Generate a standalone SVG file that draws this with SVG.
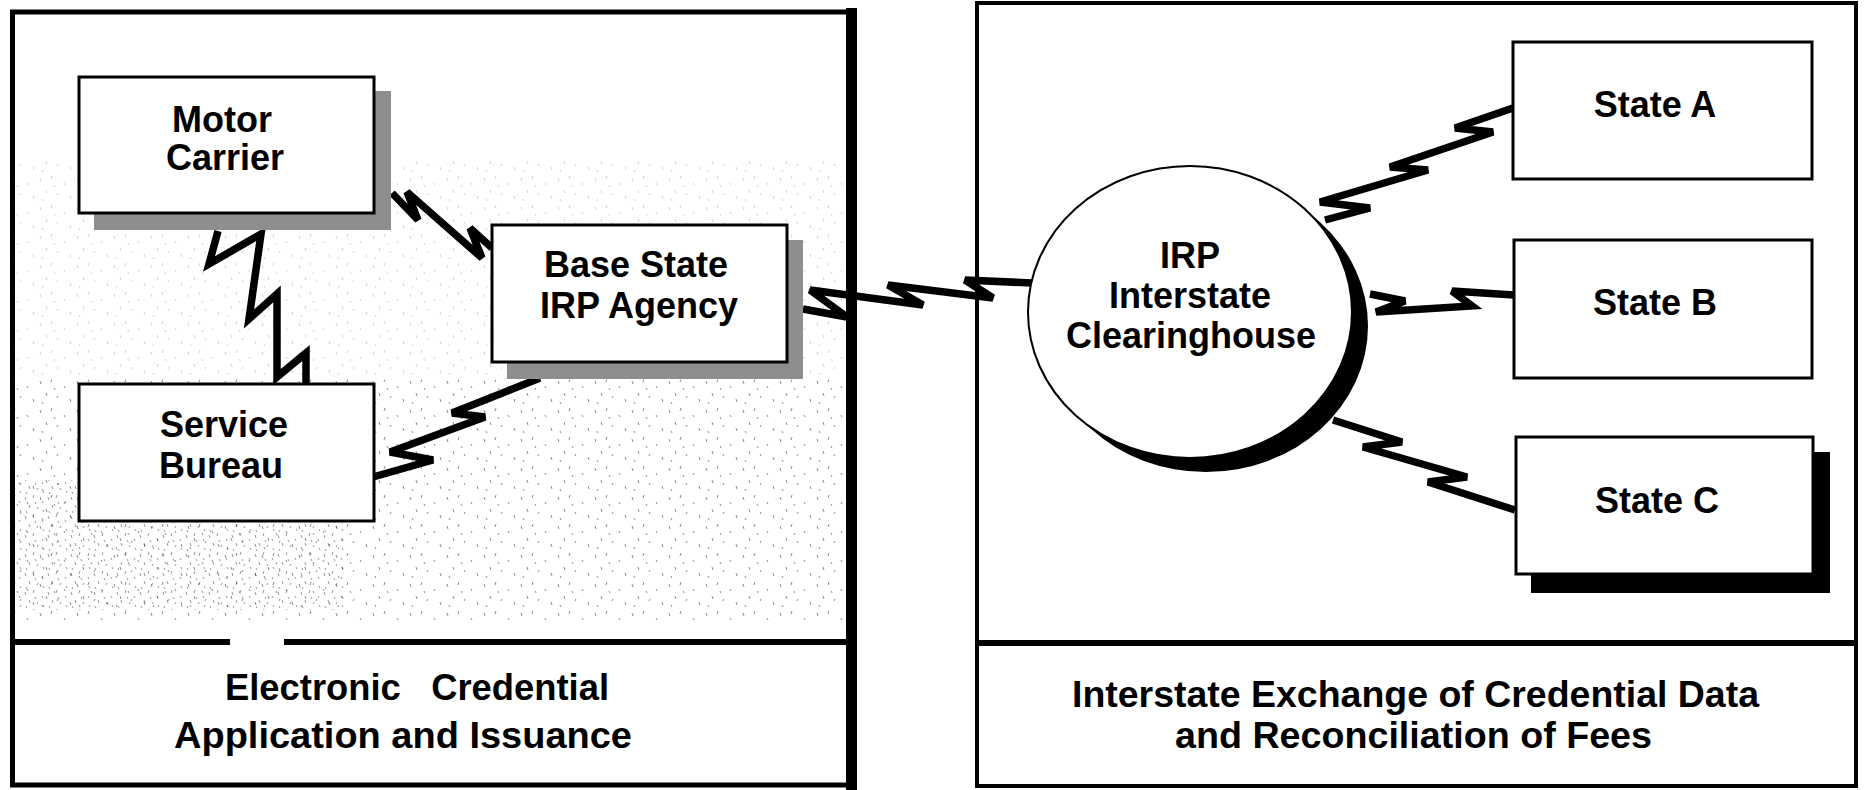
<svg xmlns="http://www.w3.org/2000/svg" width="1865" height="790" viewBox="0 0 1865 790">
<style>
.box{fill:#fff;stroke:#000;stroke-width:3}
.gshadow{fill:#8e8e8e}
.bshadow{fill:#000}
.lbl{font-family:"Liberation Sans",Arial,sans-serif;font-weight:bold;font-size:36px;text-anchor:middle;fill:#000}
.cap{font-family:"Liberation Sans",Arial,sans-serif;font-weight:bold;font-size:36px;fill:#000}
.bolt{fill:none;stroke:#000;stroke-width:7.5;stroke-linejoin:miter;stroke-miterlimit:3;stroke-linecap:butt}
.frame{fill:none;stroke:#000}
</style>
<defs>
<pattern id="speck" width="37" height="29" patternUnits="userSpaceOnUse">
<path d="M3 4l1 3M15 2l-1 3M27 9l1 2M9 16l1 3M21 19l-1 2M33 22l1 3M5 25l1 2M17 11l1 2" stroke="#000" stroke-width="1" fill="none"/>
</pattern>
<pattern id="speck2" width="23" height="19" patternUnits="userSpaceOnUse">
<path d="M2 3l1 3M11 1l-1 3M19 7l1 2M6 11l1 3M15 13l-1 2M3 17l1 2M20 16l1 2M12 8l1 2" stroke="#000" stroke-width="1" fill="none"/>
</pattern>
</defs>
<rect width="1865" height="790" fill="#fff"/>

<g id="texture">
<rect x="15" y="160" width="830" height="220" fill="url(#speck)" opacity="0.18"/>
<rect x="15" y="380" width="830" height="240" fill="url(#speck)" opacity="0.45"/>
<rect x="15" y="480" width="330" height="130" fill="url(#speck2)" opacity="0.4"/>
</g>

<g id="panel-left">
<rect class="frame" x="12.5" y="12" width="836" height="773" stroke-width="5"/>
<rect x="846" y="8" width="11" height="782" fill="#000"/>
<rect x="10" y="639" width="220" height="6" fill="#000"/>
<rect x="284" y="639" width="565" height="6" fill="#000"/>
<text class="cap" x="225" y="700" textLength="384" lengthAdjust="spacingAndGlyphs" xml:space="preserve">Electronic   Credential</text>
<text class="cap" x="174" y="748" textLength="458" lengthAdjust="spacingAndGlyphs">Application and Issuance</text>
</g>

<g id="panel-right">
<rect class="frame" x="977" y="3" width="879" height="783" stroke-width="4"/>
<rect x="975" y="640" width="883" height="6" fill="#000"/>
<text class="cap" x="1072" y="707" textLength="687" lengthAdjust="spacingAndGlyphs">Interstate Exchange of Credential Data</text>
<text class="cap" x="1175" y="748" textLength="477" lengthAdjust="spacingAndGlyphs">and Reconciliation of Fees</text>
</g>

<g id="connectors">
<polyline class="bolt" points="392,193 418,220 407,192 482,258 470,228 492,248"/>
<polyline class="bolt" points="218,231 209,264 261,234 249,319 277,294 277,377 306,353 306,384"/>
<polyline class="bolt" points="373,477 433,460 390,452 485,417 452,413 540,378"/>
<polyline class="bolt" points="803,309 847,317 810,290 923,305 888,285 993,298 965,280 1032,283"/>
<polyline class="bolt" points="1325,220 1370,208 1320,202 1428,170 1390,167 1493,132 1455,128 1513,108"/>
<polyline class="bolt" points="1370,294 1405,301 1376,312 1472,306 1452,291 1514,295"/>
<polyline class="bolt" points="1333,420 1402,442 1363,447 1467,477 1428,482 1515,510"/>
</g>

<g id="motor-carrier">
<rect class="gshadow" x="94" y="91" width="297" height="139"/>
<rect class="box" x="79" y="77" width="295" height="136"/>
<text class="lbl" x="222" y="132">Motor</text>
<text class="lbl" x="225" y="170">Carrier</text>
</g>

<g id="base-state">
<rect class="gshadow" x="507" y="240" width="296" height="139"/>
<rect class="box" x="492" y="225" width="295" height="137"/>
<text class="lbl" x="636" y="277">Base State</text>
<text class="lbl" x="639" y="318">IRP Agency</text>
</g>

<g id="service-bureau">
<rect class="box" x="79" y="384" width="295" height="137"/>
<text class="lbl" x="224" y="437">Service</text>
<text class="lbl" x="221" y="478">Bureau</text>
</g>

<g id="clearinghouse">
<ellipse cx="1206" cy="326" rx="162" ry="146" fill="#000"/>
<ellipse cx="1190" cy="312" rx="162" ry="146" fill="#fff" stroke="#000" stroke-width="2"/>
<text class="lbl" x="1190" y="268">IRP</text>
<text class="lbl" x="1190" y="308">Interstate</text>
<text class="lbl" x="1191" y="348">Clearinghouse</text>
</g>

<g id="state-a">
<rect class="box" x="1513" y="42" width="299" height="137"/>
<text class="lbl" x="1655" y="117">State A</text>
</g>

<g id="state-b">
<rect class="box" x="1514" y="240" width="298" height="138"/>
<text class="lbl" x="1655" y="315">State B</text>
</g>

<g id="state-c">
<rect class="bshadow" x="1531" y="452" width="299" height="141"/>
<rect class="box" x="1516" y="437" width="297" height="137"/>
<text class="lbl" x="1657" y="513">State C</text>
</g>
</svg>
